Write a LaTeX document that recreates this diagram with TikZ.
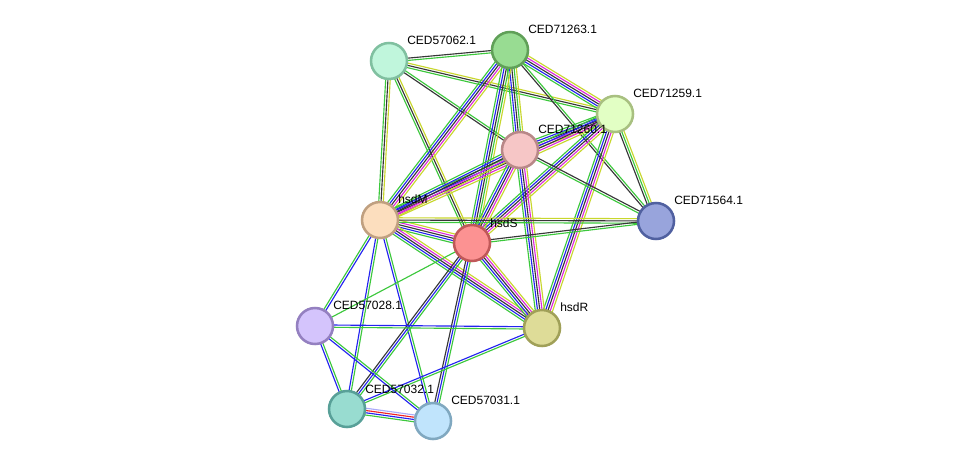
\documentclass[tikz,border=0pt]{standalone}
\usepackage{fontspec}
\setmainfont{Liberation Sans}
\usetikzlibrary{calc,backgrounds}
% link colours (evidence channels)
\definecolor{lG}{RGB}{60,200,60}
\definecolor{lB}{RGB}{35,35,240}
\definecolor{lK}{RGB}{55,55,55}
\definecolor{lM}{RGB}{220,40,220}
\definecolor{lY}{RGB}{200,215,45}
\definecolor{lR}{RGB}{240,35,35}
\definecolor{lL}{RGB}{170,170,250}
% one bundle of parallel links between two nodes
\newcommand{\linkbundle}[3]{%
  \foreach \col [count=\n] in {#3} {\xdef\nlinks{\n}}%
  \foreach \col [count=\i] in {#3} {%
    \pgfmathsetmacro{\off}{(\i-(\nlinks+1)/2)*1.7}%
    \draw[link, \col] ($(#1)!\off pt!90:(#2)$) -- ($(#2)!\off pt!-90:(#1)$);
  }}

\begin{document}
\begin{tikzpicture}[
      x=0.75pt, y=-0.75pt,
      prot/.style ={circle, minimum size=27pt, inner sep=0pt, line width=1.9pt},
      tag/.style  ={anchor=west, font=\fontsize{9}{10}\selectfont, inner sep=0pt},
      link/.style ={line width=0.85pt}
    ]
    \useasboundingbox (0,0) rectangle (975,467);
    % --- proteins ---
    \node[prot, draw={rgb,255:red,128;green,192;blue,160}, fill={rgb,255:red,192;green,246;blue,220}] (n57062) at (389,61) {};
    \node[prot, draw={rgb,255:red,96;green,160;blue,88},   fill={rgb,255:red,152;green,220;blue,146}] (n71263) at (510,50) {};
    \node[prot, draw={rgb,255:red,168;green,192;blue,128}, fill={rgb,255:red,226;green,255;blue,196}] (n71259) at (615,114) {};
    \node[prot, draw={rgb,255:red,184;green,136;blue,136}, fill={rgb,255:red,246;green,198;blue,198}] (n71260) at (520,150) {};
    \node[prot, draw={rgb,255:red,192;green,160;blue,128}, fill={rgb,255:red,252;green,222;blue,190}] (hsdM)   at (380,220) {};
    \node[prot, draw={rgb,255:red,192;green,88;blue,88},   fill={rgb,255:red,252;green,146;blue,146}] (hsdS)   at (472,243) {};
    \node[prot, draw={rgb,255:red,80;green,96;blue,160},   fill={rgb,255:red,152;green,164;blue,220}] (n71564) at (656,221) {};
    \node[prot, draw={rgb,255:red,148;green,128;blue,192}, fill={rgb,255:red,212;green,196;blue,252}] (n57028) at (315,326) {};
    \node[prot, draw={rgb,255:red,160;green,160;blue,88},  fill={rgb,255:red,222;green,220;blue,152}] (hsdR)   at (542,328) {};
    \node[prot, draw={rgb,255:red,88;green,160;blue,152},  fill={rgb,255:red,152;green,220;blue,208}] (n57032) at (347,409) {};
    \node[prot, draw={rgb,255:red,128;green,168;blue,192}, fill={rgb,255:red,192;green,228;blue,252}] (n57031) at (433,421) {};
    % --- names ---
    \node[tag] (t57062) at ([shift={(18,-21)}]n57062.center) {CED57062.1};
    \node[tag] (t71263) at ([shift={(18,-21)}]n71263.center) {CED71263.1};
    \node[tag] (t71259) at ([shift={(18,-21)}]n71259.center) {CED71259.1};
    \node[tag] (t71260) at ([shift={(18,-21)}]n71260.center) {CED71260.1};
    \node[tag] (thsdM)  at ([shift={(18,-21)}]hsdM.center)   {hsdM};
    \node[tag] (thsdS)  at ([shift={(18,-20)}]hsdS.center)   {hsdS};
    \node[tag] (t71564) at ([shift={(18,-21)}]n71564.center) {CED71564.1};
    \node[tag] (t57028) at ([shift={(18,-21)}]n57028.center) {CED57028.1};
    \node[tag] (thsdR)  at ([shift={(18,-21)}]hsdR.center)   {hsdR};
    \node[tag] (t57032) at ([shift={(18,-20)}]n57032.center) {CED57032.1};
    \node[tag] (t57031) at ([shift={(18,-21)}]n57031.center) {CED57031.1};
    % --- links ---
    \begin{scope}[on background layer]
      \fill[white] (0,0) rectangle (975,467);
      \linkbundle{n57062}{n71263}{lG,lK}
      \linkbundle{n57062}{n71259}{lG,lK,lY}
      \linkbundle{n57062}{n71260}{lK,lG}
      \linkbundle{n57062}{hsdM}{lG,lK,lY}
      \linkbundle{n57062}{hsdS}{lG,lK,lY}
      \linkbundle{n71263}{n71259}{lG,lB,lK,lM,lY}
      \linkbundle{n71263}{n71260}{lG,lB,lK,lG,lY}
      \linkbundle{n71263}{hsdM}{lG,lB,lK,lM,lY}
      \linkbundle{n71263}{hsdS}{lG,lB,lK,lG,lY}
      \linkbundle{n71263}{n71564}{lK,lG}
      \linkbundle{n71259}{n71260}{lG,lB,lK,lM,lY}
      \linkbundle{n71259}{hsdM}{lG,lB,lK,lM,lY}
      \linkbundle{n71259}{hsdS}{lG,lB,lK,lM,lY}
      \linkbundle{n71259}{hsdR}{lG,lB,lK,lM,lY}
      \linkbundle{n71259}{n71564}{lK,lG,lY}
      \linkbundle{n71260}{hsdM}{lG,lB,lK,lM,lY}
      \linkbundle{n71260}{hsdS}{lG,lB,lK,lM,lY}
      \linkbundle{n71260}{hsdR}{lG,lB,lK,lM,lY}
      \linkbundle{n71260}{n71564}{lG,lK}
      \linkbundle{hsdM}{hsdS}{lG,lB,lK,lM,lY}
      \linkbundle{hsdM}{n71564}{lG,lK,lY}
      \linkbundle{hsdM}{hsdR}{lG,lB,lK,lM,lY}
      \linkbundle{hsdM}{n57028}{lG,lB}
      \linkbundle{hsdM}{n57032}{lB,lG}
      \linkbundle{hsdM}{n57031}{lB,lG}
      \linkbundle{hsdS}{n71564}{lG,lK}
      \linkbundle{hsdS}{hsdR}{lG,lB,lK,lM,lY}
      \linkbundle{hsdS}{n57028}{lG}
      \linkbundle{hsdS}{n57032}{lK,lB,lG}
      \linkbundle{hsdS}{n57031}{lK,lB,lG}
      \linkbundle{hsdR}{n57028}{lB,lG}
      \linkbundle{hsdR}{n57032}{lB,lG}
      \linkbundle{n57028}{n57032}{lB,lG}
      \linkbundle{n57028}{n57031}{lB,lG}
      \linkbundle{n57032}{n57031}{lG,lB,lR,lL}
    \end{scope}
\end{tikzpicture}
\end{document}
